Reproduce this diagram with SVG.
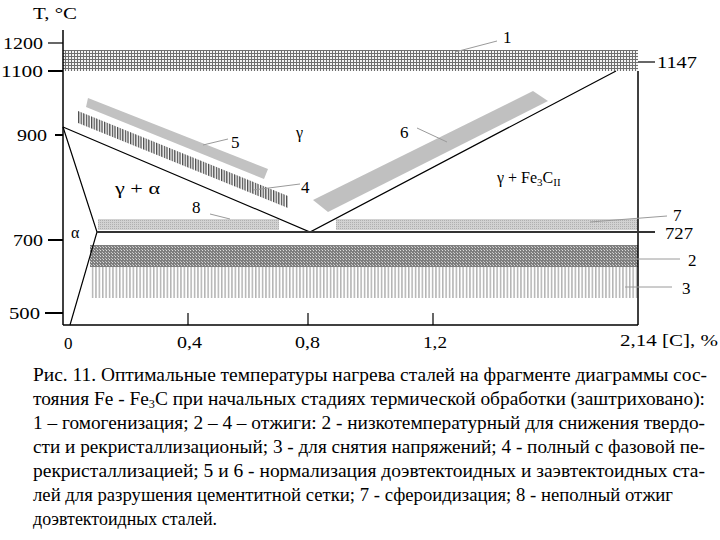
<svg xmlns="http://www.w3.org/2000/svg" width="720" height="540" viewBox="0 0 720 540">
<defs>
<pattern id="grid" width="3" height="3" patternUnits="userSpaceOnUse">
<rect width="3" height="3" fill="#6e6e6e"/><rect width="2" height="2" fill="#f4f4f4"/>
</pattern>
<pattern id="cross" width="3" height="3" patternUnits="userSpaceOnUse">
<rect width="3" height="3" fill="#7e7e7e"/><rect x="1" y="1" width="1" height="1" fill="#dadada"/><rect x="0" y="0" width="1" height="1" fill="#c0c0c0"/>
</pattern>
<pattern id="dots" width="2" height="2" patternUnits="userSpaceOnUse">
<rect width="2" height="2" fill="#d2d2d2"/><rect width="1" height="1" fill="#b0b0b0"/>
</pattern>
<pattern id="vlines" width="3.4" height="4" patternUnits="userSpaceOnUse">
<rect width="3.4" height="4" fill="#ffffff"/><rect width="1.5" height="4" fill="#b4b4b4"/>
</pattern>
<pattern id="vdark" width="2.6" height="4" patternUnits="userSpaceOnUse">
<rect width="2.6" height="4" fill="#ffffff"/><rect width="1.3" height="4" fill="#4a4a4a"/>
</pattern>
</defs>
<style>
.ax{stroke:#000;stroke-width:1.5;fill:none}
.ln{stroke:#000;stroke-width:1.2;fill:none}
.tk{stroke:#000;stroke-width:1.2}
.tkb{stroke:#000;stroke-width:2}
.ld{stroke:#9a9a9a;stroke-width:1;fill:none}
text{font-family:"Liberation Serif",serif;fill:#000}
.t{font-size:17px}
.n{font-size:17px}
.g{font-size:16px}
.c{font-size:19px}
</style>
<rect width="720" height="540" fill="#ffffff"/>

<g id="bands">
<rect id="band1" x="63" y="50" width="575" height="21" fill="url(#grid)"/>
<rect id="band8" x="98" y="219" width="181" height="11" fill="url(#dots)"/>
<rect id="band7" x="336" y="219" width="302" height="11" fill="url(#dots)"/>
<rect id="band2" x="90" y="245" width="548" height="22" fill="url(#cross)"/>
<rect id="band3" x="90" y="267" width="548" height="31" fill="url(#vlines)"/>
<polygon id="band5" points="88,98 268,169 264,179 86,107" fill="#c2c2c2"/>
<polygon id="band4" points="78,111 288,196 288,208 78,123" fill="url(#vdark)"/>
<polygon id="band6" points="313,200 533,91 548,101 328,212" fill="#c0c0c0"/>
</g>

<g id="connectors">
<line class="ax" x1="63" y1="30" x2="63" y2="325"/>
<line class="ax" x1="63" y1="325" x2="638" y2="325"/>
<line class="ax" x1="638" y1="71" x2="638" y2="325"/>
<line class="tk" x1="48" y1="43" x2="63" y2="43"/>
<line class="tkb" x1="48" y1="71" x2="63" y2="71"/>
<line class="tkb" x1="55" y1="135" x2="63" y2="135"/>
<line class="tkb" x1="48" y1="240" x2="63" y2="240"/>
<line class="tkb" x1="45" y1="313" x2="63" y2="313"/>
<line class="tk" x1="188" y1="313" x2="188" y2="325"/>
<line class="tk" x1="308" y1="313" x2="308" y2="325"/>
<line class="tk" x1="433" y1="313" x2="433" y2="325"/>
<line class="tk" x1="638" y1="62" x2="655" y2="62"/>
<polyline class="ln" points="63,127 97,232 70,325"/>
<polyline class="ln" points="63,127 310,232 616,71"/>
<line stroke="#333" stroke-width="2.2" x1="97" y1="232" x2="655" y2="232"/>
<line class="ld" x1="455" y1="52" x2="497" y2="41"/>
<line class="ld" x1="203" y1="145" x2="228" y2="139"/>
<line class="ld" x1="253" y1="190" x2="300" y2="184"/>
<line class="ld" x1="417" y1="128" x2="447" y2="142"/>
<line class="ld" x1="210" y1="214" x2="230" y2="219"/>
<line class="ld" x1="590" y1="222" x2="667" y2="216"/>
<line class="ld" x1="620" y1="259" x2="680" y2="259"/>
<line class="ld" x1="625" y1="287" x2="672" y2="287"/>
</g>

<g id="axis-labels">
<text class="t" x="33" y="19" textLength="44" lengthAdjust="spacingAndGlyphs">T, °C</text>
<text class="n" x="3" y="49" textLength="40" lengthAdjust="spacingAndGlyphs">1200</text>
<text class="n" x="1" y="77" textLength="42" lengthAdjust="spacingAndGlyphs">1100</text>
<text class="n" x="17" y="141" textLength="30" lengthAdjust="spacingAndGlyphs">900</text>
<text class="n" x="13" y="246" textLength="30" lengthAdjust="spacingAndGlyphs">700</text>
<text class="n" x="9" y="319" textLength="31" lengthAdjust="spacingAndGlyphs">500</text>
<text class="n" x="64" y="349">0</text>
<text class="n" x="177" y="348" textLength="25" lengthAdjust="spacingAndGlyphs">0,4</text>
<text class="n" x="295" y="348" textLength="25" lengthAdjust="spacingAndGlyphs">0,8</text>
<text class="n" x="423" y="348" textLength="24" lengthAdjust="spacingAndGlyphs">1,2</text>
<text class="n" x="620" y="346" textLength="98" lengthAdjust="spacingAndGlyphs">2,14 [C], %</text>
<text class="n" x="657" y="68" textLength="40" lengthAdjust="spacingAndGlyphs">1147</text>
<text class="n" x="665" y="239" textLength="28" lengthAdjust="spacingAndGlyphs">727</text>
</g>

<g id="phase-labels">
<text class="g" x="296" y="138">γ</text>
<text class="g" x="115" y="194" textLength="45" lengthAdjust="spacingAndGlyphs">γ + α</text>
<text class="g" x="71" y="238">α</text>
<text class="g" x="497" y="183">γ + Fe<tspan font-size="11" dy="3">3</tspan><tspan dy="-3">C</tspan><tspan font-size="11" dy="3">II</tspan></text>
</g>

<g id="band-labels">
<text class="n" x="503" y="43">1</text>
<text class="n" x="231" y="148">5</text>
<text class="n" x="301" y="193">4</text>
<text class="n" x="400" y="138">6</text>
<text class="n" x="192" y="213">8</text>
<text class="n" x="673" y="221">7</text>
<text class="n" x="688" y="266">2</text>
<text class="n" x="682" y="294">3</text>
</g>

<g id="caption">
<text class="c" x="33" y="381" textLength="674" lengthAdjust="spacingAndGlyphs">Рис. 11. Оптимальные температуры нагрева сталей на фрагменте диаграммы сос-</text>
<text class="c" x="33" y="405" textLength="672" lengthAdjust="spacingAndGlyphs">тояния Fe - Fe<tspan font-size="12" dy="3">3</tspan><tspan dy="-3">C при начальных стадиях термической обработки (заштриховано):</tspan></text>
<text class="c" x="33" y="429" textLength="672" lengthAdjust="spacingAndGlyphs">1 – гомогенизация; 2 – 4 – отжиги: 2 - низкотемпературный для снижения твердо-</text>
<text class="c" x="33" y="453" textLength="672" lengthAdjust="spacingAndGlyphs">сти и рекристаллизационый; 3 - для снятия напряжений; 4 - полный с фазовой пе-</text>
<text class="c" x="33" y="477" textLength="672" lengthAdjust="spacingAndGlyphs">рекристаллизацией; 5 и 6 - нормализация доэвтектоидных и заэвтектоидных ста-</text>
<text class="c" x="33" y="501" textLength="640" lengthAdjust="spacingAndGlyphs">лей для разрушения цементитной сетки; 7 - сфероидизация; 8 - неполный отжиг</text>
<text class="c" x="33" y="525" textLength="184" lengthAdjust="spacingAndGlyphs">доэвтектоидных сталей.</text>
</g>
</svg>
